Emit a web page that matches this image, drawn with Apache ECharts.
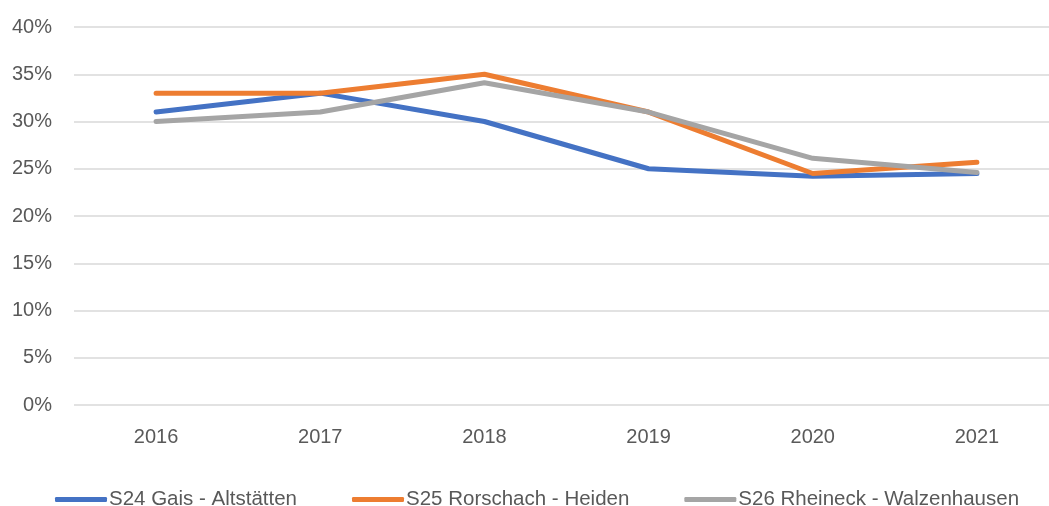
<!DOCTYPE html>
<html>
<head>
<meta charset="utf-8">
<script src="https://cdn.jsdelivr.net/npm/echarts@6/dist/echarts.min.js"></script>
<style>html,body{margin:0;padding:0;background:#fff}#c{width:1049px;height:506px}</style>
</head>
<body>
<div id="c"></div>
<script>
const categories = ['2016', '2017', '2018', '2019', '2020', '2021'];
const seriesNames = ['S24 Gais - Altstätten', 'S25 Rorschach - Heiden', 'S26 Rheineck - Walzenhausen'];
const s24 = [31.0, 33.0, 30.0, 25.0, 24.2, 24.5];
const s25 = [33.0, 33.0, 35.0, 31.0, 24.5, 25.7];
const s26 = [30.0, 31.0, 34.1, 31.0, 26.1, 24.6];
const colors = ['#4472C4', '#ED7D31', '#A5A5A5'];

const font = '"Liberation Sans", Arial, sans-serif';
const chart = echarts.init(document.getElementById('c'), null, {renderer: 'canvas'});
const mk = (name, data, color) => ({
  name, type: 'line', data, showSymbol: false, symbol: 'none',
  lineStyle: {color, width: 5, cap: 'round', join: 'round'},
  itemStyle: {color}
});
chart.setOption({
  animation: false,
  color: colors,
  grid: {left: 74, width: 985, top: 27, height: 378, containLabel: false, outerBoundsMode: 'none'},
  xAxis: {
    type: 'category', data: categories, boundaryGap: true,
    axisLine: {show: false}, axisTick: {show: false},
    axisLabel: {color: '#595959', fontFamily: font, fontSize: 20, margin: 22}
  },
  yAxis: {
    type: 'value', min: 0, max: 40, interval: 5,
    axisLine: {show: false}, axisTick: {show: false},
    axisLabel: {color: '#595959', fontFamily: font, fontSize: 20, margin: 22, formatter: v => v + '%'},
    splitLine: {lineStyle: {color: '#D9D9D9', width: 1.5}}
  },
  legend: {
    left: 50, top: 484, itemWidth: 52, itemHeight: 5, itemGap: 55,
    icon: 'roundRect',
    textStyle: {color: '#595959', fontFamily: font, fontSize: 20.5, padding: [0,0,0,-3]},
    data: seriesNames
  },
  series: [mk(seriesNames[0], s24, colors[0]), mk(seriesNames[1], s25, colors[1]), mk(seriesNames[2], s26, colors[2])]
});
</script>
</body>
</html>
